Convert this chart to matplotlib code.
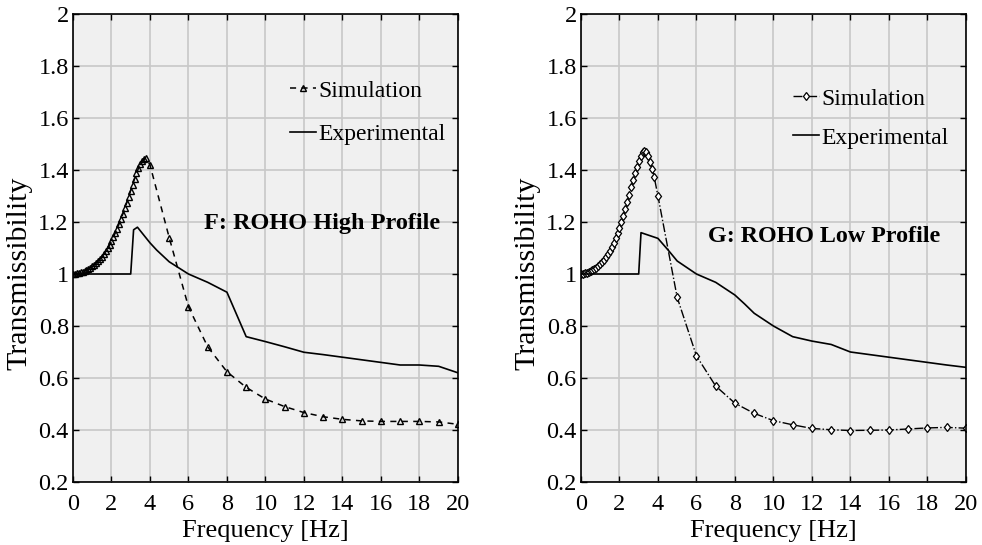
import matplotlib; matplotlib.use("Agg")
import matplotlib.pyplot as plt

plt.rcParams["font.family"] = ["Liberation Serif", "DejaVu Serif"]
plt.rcParams["font.size"] = 17

# ---- F: ROHO High Profile ----
f_sim_hi = [0.0, 0.1, 0.2, 0.3, 0.4, 0.5, 0.6, 0.7, 0.8, 0.9,
            1.0, 1.1, 1.2, 1.3, 1.4, 1.5, 1.6, 1.7, 1.8, 1.9,
            2.0, 2.1, 2.2, 2.3, 2.4, 2.5, 2.6, 2.7, 2.8, 2.9,
            3.0, 3.1, 3.2, 3.3, 3.4, 3.5, 3.6, 3.7, 3.8, 4.0,
            5, 6, 7, 8, 9, 10, 11, 12, 13, 14, 15, 16, 17, 18, 19, 20]
t_sim_hi = [1.000, 1.001, 1.002, 1.004, 1.006, 1.009, 1.012, 1.016, 1.020, 1.025,
            1.030, 1.036, 1.043, 1.050, 1.058, 1.067, 1.077, 1.088, 1.100, 1.113,
            1.127, 1.142, 1.158, 1.175, 1.193, 1.212, 1.232, 1.253, 1.275, 1.298,
            1.321, 1.344, 1.366, 1.387, 1.406, 1.422, 1.435, 1.444, 1.446, 1.420,
            1.14, 0.874, 0.72, 0.624, 0.564, 0.519, 0.49, 0.467, 0.451, 0.441,
            0.435, 0.433, 0.433, 0.433, 0.431, 0.422]
f_exp_hi = [0, 3.0, 3.15, 3.35, 4, 4.35, 5, 6, 7, 8, 9, 10, 11, 12, 13,
            14, 15, 16, 17, 18, 19, 19.6, 20]
t_exp_hi = [1.0, 1.0, 1.17, 1.18, 1.12, 1.092, 1.047, 1.0, 0.968, 0.93, 0.759,
            0.74, 0.72, 0.699, 0.69, 0.68, 0.67, 0.66, 0.65, 0.65, 0.645, 0.63, 0.62]

# ---- G: ROHO Low Profile ----
f_sim_lo = [0.0, 0.1, 0.2, 0.3, 0.4, 0.5, 0.6, 0.7, 0.8, 0.9,
            1.0, 1.1, 1.2, 1.3, 1.4, 1.5, 1.6, 1.7, 1.8, 1.9,
            2.0, 2.1, 2.2, 2.3, 2.4, 2.5, 2.6, 2.7, 2.8, 2.9,
            3.0, 3.1, 3.2, 3.3, 3.4, 3.5, 3.6, 3.7, 3.8, 4.0,
            5, 6, 7, 8, 9, 10, 11, 12, 13, 14, 15, 16, 17, 18, 19, 20]
t_sim_lo = [1.000, 1.001, 1.003, 1.005, 1.008, 1.011, 1.015, 1.020, 1.025, 1.031,
            1.038, 1.046, 1.055, 1.066, 1.077, 1.090, 1.104, 1.120, 1.137, 1.156,
            1.177, 1.200, 1.224, 1.250, 1.277, 1.305, 1.333, 1.361, 1.388, 1.413,
            1.436, 1.455, 1.468, 1.474, 1.470, 1.455, 1.430, 1.405, 1.375, 1.30,
            0.91, 0.685, 0.569, 0.503, 0.464, 0.436, 0.42, 0.406, 0.401, 0.398,
            0.399, 0.40, 0.404, 0.408, 0.41, 0.407]
f_exp_lo = [0, 3.0, 3.12, 4.0, 4.53, 5, 6, 7, 8, 8.5, 9, 10, 11, 12, 13,
            14, 15, 16, 17, 18, 19, 20]
t_exp_lo = [1.0, 1.0, 1.159, 1.137, 1.092, 1.05, 1.0, 0.968, 0.919, 0.885, 0.849,
            0.80, 0.759, 0.742, 0.729, 0.70, 0.69, 0.68, 0.67, 0.66, 0.65, 0.641]

fig = plt.figure(figsize=(9.82, 5.45), dpi=100)
ax1 = fig.add_axes([0.0743, 0.1156, 0.392, 0.8587])
ax2 = fig.add_axes([0.5916, 0.1156, 0.392, 0.8587])


def style(ax):
    ax.set_facecolor("#f0f0f0")
    ax.set_xlim(0, 20); ax.set_ylim(0.2, 2)
    ax.set_xticks(range(0, 21, 2))
    ax.set_yticks([0.2, 0.4, 0.6, 0.8, 1, 1.2, 1.4, 1.6, 1.8, 2])
    ax.set_yticklabels(["0.2", "0.4", "0.6", "0.8", "1", "1.2", "1.4", "1.6", "1.8", "2"])
    ax.grid(True, color="#c8c8c8", lw=1.2)
    ax.set_axisbelow(True)
    ax.tick_params(direction="in", top=True, right=True, length=4.5, width=1,
                   labelsize=17.5)
    ax.tick_params(axis="x", pad=9)
    ax.tick_params(axis="y", pad=3)
    for s in ax.spines.values():
        s.set_linewidth(1.2)
    ax.set_xlabel("Frequency [Hz]", fontsize=19, labelpad=3)
    ax.set_ylabel("Transmissibility", fontsize=21.5)
    ax.yaxis.set_label_coords(-0.104, 0.447)


style(ax1)
ax1.plot(f_sim_hi, t_sim_hi, color="black", ls=(0, (4, 3.5)), lw=1.1,
         marker="^", ms=5, mfc="none", mec="black", mew=1.0, label="Simulation")
ax1.plot(f_exp_hi, t_exp_hi, color="black", lw=1.2, label="Experimental")
ax1.legend(loc="center left", bbox_to_anchor=(0.564, 0.789), frameon=False,
           handlelength=1.1, handletextpad=0.1, labelspacing=0.95, fontsize=17,
           borderaxespad=0, borderpad=0)
ax1.text(19.1, 1.195, "F: ROHO High Profile", ha="right", va="center",
         fontsize=17.5, fontweight="bold")

style(ax2)
ax2.plot(f_sim_lo, t_sim_lo, color="black", ls="-.", lw=1.0,
         marker="d", ms=4.5, mfc="white", mec="black", mew=0.9, label="Simulation")
ax2.plot(f_exp_lo, t_exp_lo, color="black", lw=1.2, label="Experimental")
ax2.legend(loc="center left", bbox_to_anchor=(0.551, 0.777), frameon=False,
           handlelength=1.1, handletextpad=0.1, labelspacing=0.75, fontsize=17,
           borderaxespad=0, borderpad=0)
ax2.text(6.6, 1.145, "G: ROHO Low Profile", ha="left", va="center",
         fontsize=17.3, fontweight="bold")

fig.savefig("out.png", dpi=100)
